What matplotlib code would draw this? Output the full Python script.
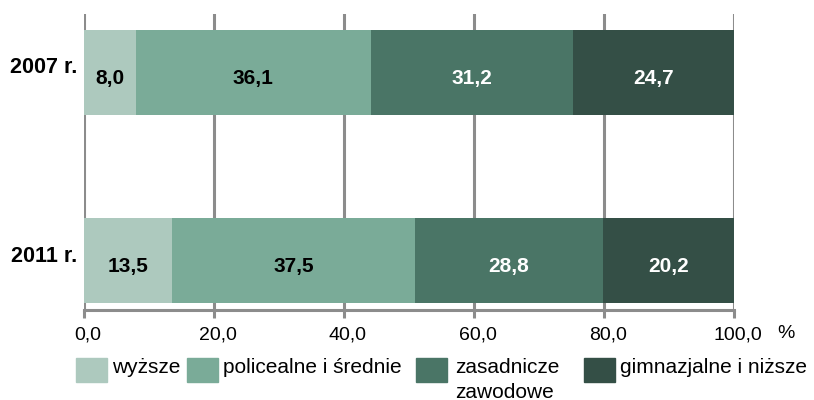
import matplotlib.pyplot as plt
from matplotlib.patches import Rectangle
from matplotlib.transforms import ScaledTranslation

plt.rcParams['font.family'] = ['Liberation Sans', 'DejaVu Sans']

years = ['2011 r.', '2007 r.']
categories = ['wyższe', 'policealne i średnie', 'zasadnicze\nzawodowe', 'gimnazjalne i niższe']
values = {
    '2011 r.': [13.5, 37.5, 28.8, 20.2],
    '2007 r.': [8.0, 36.1, 31.2, 24.7],
}
colors = ['#adc9be', '#7aab98', '#4a7566', '#344f46']
text_colors = ['black', 'black', 'white', 'white']
grid_gray = '#8c8c8c'

fig = plt.figure(figsize=(8.14, 4.0), dpi=100)
ax = fig.add_axes([0.1032, 0.225, 0.7985, 0.74])

for yi, year in enumerate(years):
    left = 0
    for ci, v in enumerate(values[year]):
        ax.barh(yi, v, left=left, height=0.45, color=colors[ci], zorder=3)
        ax.text(left + v / 2, yi - 0.03, f'{v:.1f}'.replace('.', ','),
                ha='center', va='center', fontsize=15, fontweight='bold',
                color=text_colors[ci], zorder=4)
        left += v

ax.set_xlim(0, 100)
ax.set_ylim(-0.263, 1.311)
ax.set_xticks(range(0, 101, 20))
ax.set_xticklabels([f'{t},0' for t in range(0, 101, 20)], fontsize=14)
ax.set_yticks(range(len(years)))
ax.set_yticklabels(years, fontsize=15.5, fontweight='bold')
ax.tick_params(axis='y', length=0, pad=5)
ax.tick_params(axis='x', length=6, width=2.2, color=grid_gray, pad=6)
ax.grid(axis='x', color=grid_gray, linewidth=2.2, zorder=1)
ax.set_axisbelow(True)
for side in ['top', 'right', 'left']:
    ax.spines[side].set_visible(False)
ax.spines['bottom'].set_color(grid_gray)
ax.spines['bottom'].set_linewidth(2.2)

# nudge tick labels: x labels a bit right, year labels a bit up
for lbl in ax.get_xticklabels():
    lbl.set_transform(lbl.get_transform() + ScaledTranslation(0.04, 0, fig.dpi_scale_trans))
for lbl in ax.get_yticklabels():
    lbl.set_transform(lbl.get_transform() + ScaledTranslation(0, 0.07, fig.dpi_scale_trans))

fig.text(786 / 814, 1 - 333 / 400, '%', ha='center', va='center', fontsize=14)

# legend drawn by hand so the two-line label lines up with its box
leg_x = [76, 187, 416, 584]
text_x = [112, 223, 455, 620]
for ci, name in enumerate(categories):
    fig.add_artist(Rectangle((leg_x[ci] / 814, 1 - 382 / 400), 31 / 814, 24 / 400,
                             transform=fig.transFigure, color=colors[ci]))
    fig.text(text_x[ci] / 814, 1 - 358 / 400, name, ha='left', va='top',
             fontsize=15, linespacing=1.4)

fig.savefig('out.png', dpi=100)
